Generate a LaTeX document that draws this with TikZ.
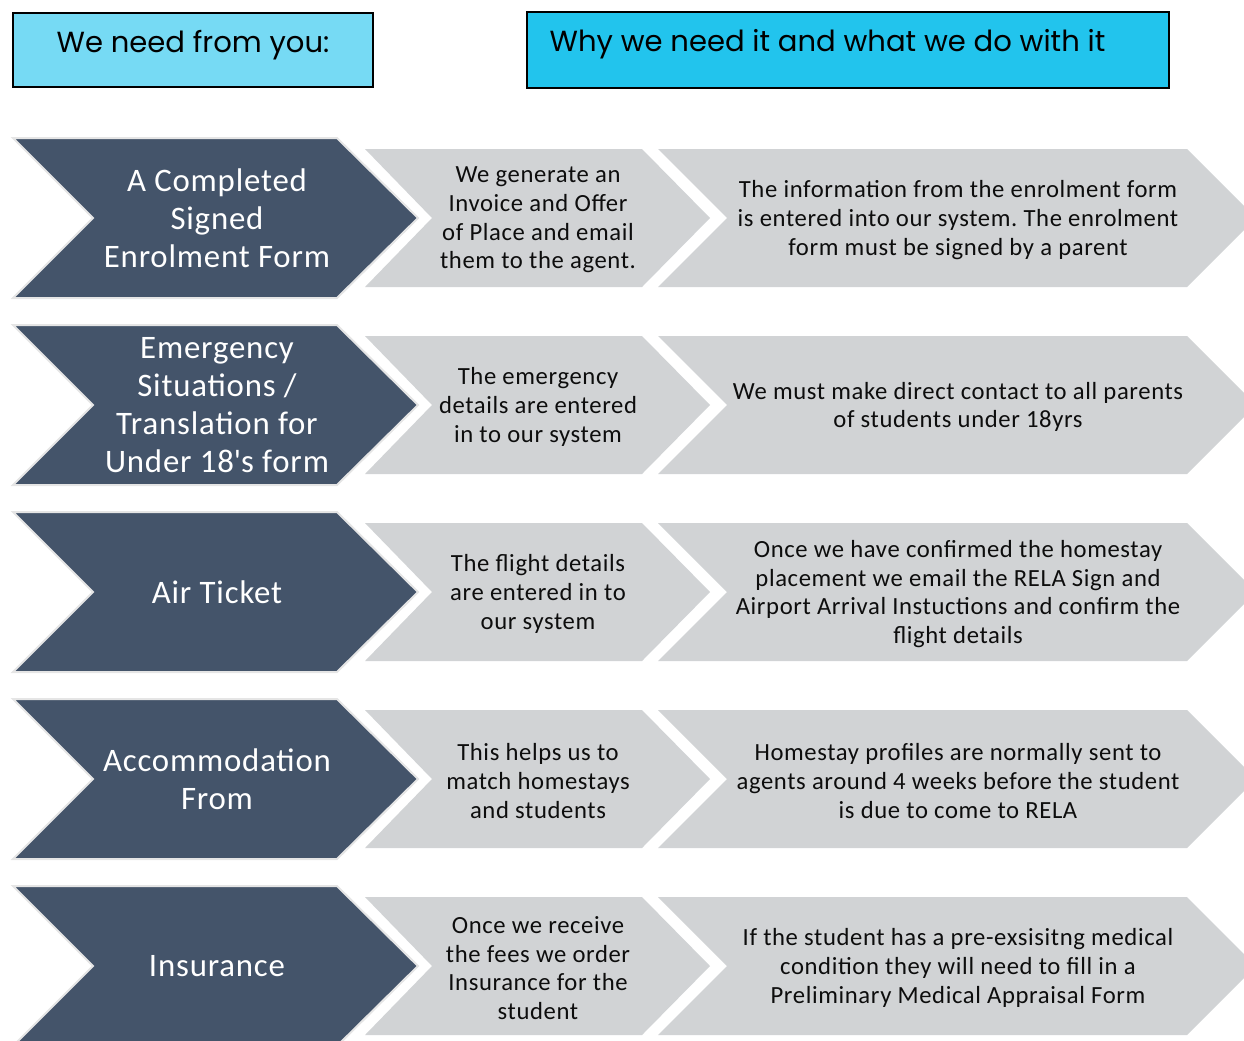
\documentclass[tikz,border=0pt]{standalone}
\usepackage{fontspec}
\setmainfont{Carlito}[LetterSpace=2.5]
\newfontfamily\headfont{Poppins}
\definecolor{slate}{HTML}{44546A}
\definecolor{chevgray}{HTML}{D1D3D5}
\definecolor{headcyan}{HTML}{76DAF4}
\definecolor{headblue}{HTML}{22C4ED}

\begin{document}
\begin{tikzpicture}[x=0.75pt, y=-0.75pt,
    needshape/.style={fill=slate, draw=black!10, line width=1.5pt},
    doshape/.style={fill=chevgray},
    headbox/.style={draw=black, line width=1.5pt},
    headtext/.style={font=\headfont\fontsize{21.8}{26}\selectfont},
    needtext/.style={text=white, align=center, font=\fontsize{24.6}{28.5}\selectfont},
    dotext/.style={text=black!95, align=center, yshift=-1.5pt, font=\fontsize{18.5}{21.5}\selectfont}]
        \clip (0,0) rectangle (1244,1040);
        % headers
        \filldraw[headbox, fill=headcyan] (13,13) rectangle (373,87);
        \filldraw[headbox, fill=headblue] (527,12) rectangle (1169,88);
        \node[headtext] (needhead) at (193,45) {We need from you:};
        \node[headtext, anchor=west] (whyhead) at (545,44) {Why we need it and what we do with it};
        % row 1
        \filldraw[needshape] (13,138) -- (337,138) -- (418,218) -- (337,298) -- (13,298) -- (93,218) -- cycle;
        \fill[doshape] (365,149) -- (642,149) -- (710,218) -- (642,287) -- (365,287) -- (432,218) -- cycle;
        \fill[doshape] (658,149) -- (1187,149) -- (1256,218) -- (1187,287) -- (658,287) -- (727,218) -- cycle;
        \node[needtext] (need1) at (217,218) {A Completed\\Signed\\Enrolment Form};
        \node[dotext] (do1) at (538,218) {We generate an\\Invoice and Offer\\of Place and email\\them to the agent.};
        \node[dotext] (why1) at (958,218) {The information from the enrolment form\\is entered into our system.\ The enrolment\\form must be signed by a parent};
        % row 2
        \filldraw[needshape] (13,325) -- (337,325) -- (418,405) -- (337,485) -- (13,485) -- (93,405) -- cycle;
        \fill[doshape] (365,336) -- (642,336) -- (710,405) -- (642,474) -- (365,474) -- (432,405) -- cycle;
        \fill[doshape] (658,336) -- (1187,336) -- (1256,405) -- (1187,474) -- (658,474) -- (727,405) -- cycle;
        \node[needtext] (need2) at (217,405) {Emergency\\Situations /\\Translation for\\Under 18\textquotesingle s form};
        \node[dotext] (do2) at (538,405) {The emergency\\details are entered\\in to our system};
        \node[dotext] (why2) at (958,405) {We must make direct contact to all parents\\of students under 18yrs};
        % row 3
        \filldraw[needshape] (13,512) -- (337,512) -- (418,592) -- (337,672) -- (13,672) -- (93,592) -- cycle;
        \fill[doshape] (365,523) -- (642,523) -- (710,592) -- (642,661) -- (365,661) -- (432,592) -- cycle;
        \fill[doshape] (658,523) -- (1187,523) -- (1256,592) -- (1187,661) -- (658,661) -- (727,592) -- cycle;
        \node[needtext] (need3) at (217,592) {Air Ticket};
        \node[dotext] (do3) at (538,592) {The flight details\\are entered in to\\our system};
        \node[dotext] (why3) at (958,592) {Once we have confirmed the homestay\\placement we email the RELA Sign and\\Airport Arrival Instuctions and confirm the\\flight details};
        % row 4
        \filldraw[needshape] (13,699) -- (337,699) -- (418,779) -- (337,859) -- (13,859) -- (93,779) -- cycle;
        \fill[doshape] (365,710) -- (642,710) -- (710,779) -- (642,848) -- (365,848) -- (432,779) -- cycle;
        \fill[doshape] (658,710) -- (1187,710) -- (1256,779) -- (1187,848) -- (658,848) -- (727,779) -- cycle;
        \node[needtext] (need4) at (217,779) {Accommodation\\From};
        \node[dotext] (do4) at (538,779) {This helps us to\\match homestays\\and students};
        \node[dotext] (why4) at (958,779) {Homestay profiles are normally sent to\\agents around 4 weeks before the student\\is due to come to RELA};
        % row 5
        \filldraw[needshape] (13,886) -- (337,886) -- (418,966) -- (337,1046) -- (13,1046) -- (93,966) -- cycle;
        \fill[doshape] (365,897) -- (642,897) -- (710,966) -- (642,1035) -- (365,1035) -- (432,966) -- cycle;
        \fill[doshape] (658,897) -- (1187,897) -- (1256,966) -- (1187,1035) -- (658,1035) -- (727,966) -- cycle;
        \node[needtext] (need5) at (217,966) {Insurance};
        \node[dotext] (do5) at (538,966) {Once we receive\\the fees we order\\Insurance for the\\student};
        \node[dotext] (why5) at (958,966) {If the student has a pre-exsisitng medical\\condition they will need to fill in a\\Preliminary Medical Appraisal Form};
    \end{tikzpicture}
\end{document}
